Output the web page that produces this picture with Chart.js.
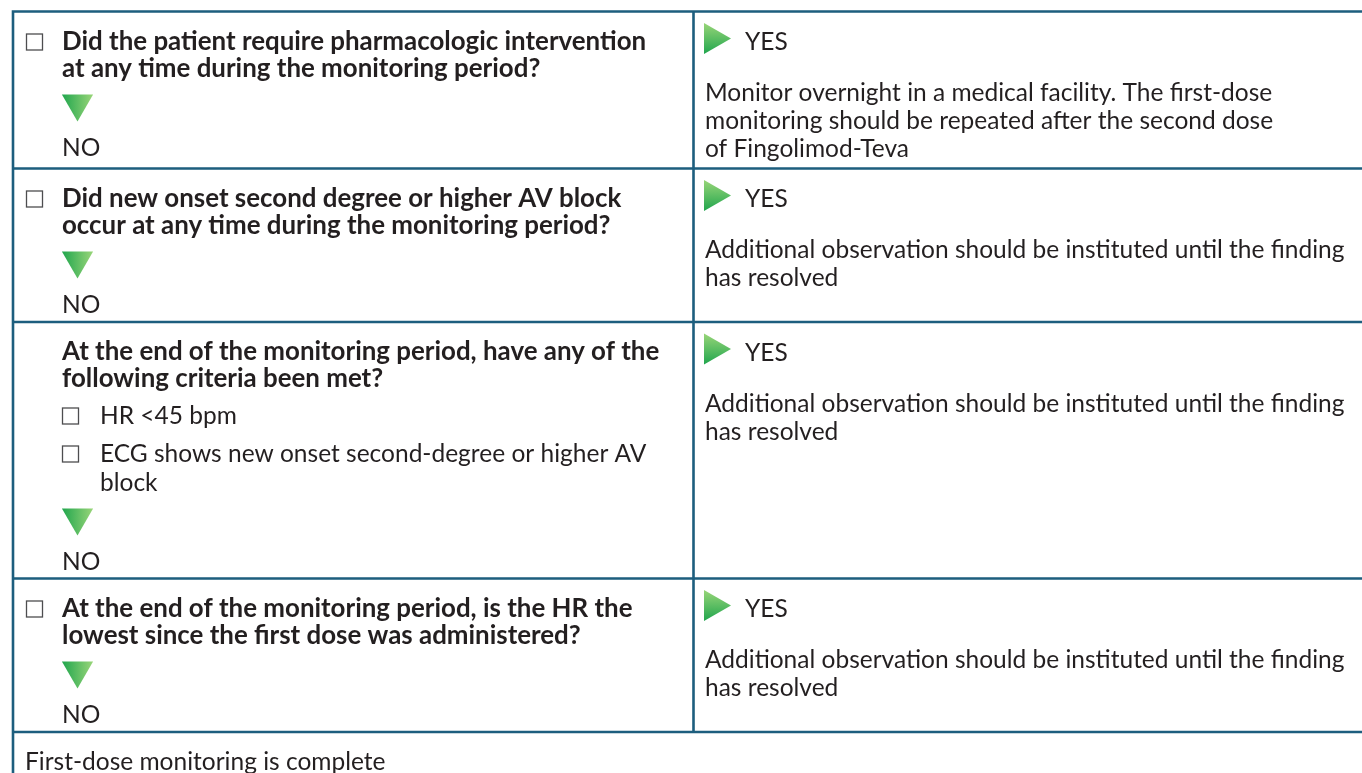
<!DOCTYPE html>
<html>
<head>
<meta charset="utf-8">
<script src="https://cdn.jsdelivr.net/npm/chart.js@4.4.1/dist/chart.umd.min.js"></script>
<style>
  html, body { margin: 0; padding: 0; background: #ffffff; }
  #wrap { position: relative; width: 1362px; height: 773px; }
</style>
</head>
<body>
<div id="wrap"><canvas id="flow"></canvas></div>
<script>
// ---------------- data ----------------
const noLabel = "NO";
const yesLabel = "YES";
const questions = [
  ["Did the patient require pharmacologic intervention", "at any time during the monitoring period?"],
  ["Did new onset second degree or higher AV block", "occur at any time during the monitoring period?"],
  ["At the end of the monitoring period, have any of the", "following criteria been met?"],
  ["At the end of the monitoring period, is the HR the", "lowest since the first dose was administered?"]
];
const questionCheckbox = [true, true, false, true];
const criteria = [
  [],
  [],
  [["HR <45 bpm"], ["ECG shows new onset second-degree or higher AV", "block"]],
  []
];
const yesActions = [
  ["Monitor overnight in a medical facility. The first-dose", "monitoring should be repeated after the second dose", "of Fingolimod-Teva"],
  ["Additional observation should be instituted until the finding", "has resolved"],
  ["Additional observation should be instituted until the finding", "has resolved"],
  ["Additional observation should be instituted until the finding", "has resolved"]
];
const conclusion = "First-dose monitoring is complete";

// ---------------- layout (styles / positions) ----------------
const W = 1362, H = 773;
const rowTops = [11.5, 168.5, 322, 578.5, 732];
const leftEdge = 13, divider = 693.5;
const qLineH = 27;
const bodyLineH = 28;
const borderColor = "#1d5e7e";
const textColor = "#231f20";
const FONT_FAMILY = "Lato, 'Open Sans', 'DejaVu Sans', sans-serif";
const boldFont = "bold 25.9px " + FONT_FAMILY;
const bodyFont = "24.5px " + FONT_FAMILY;

// compute flow of left column per row
function leftLayout(i) {
  const top = rowTops[i];
  const lines = [];
  let b = top + 38;
  questions[i].forEach((t, k) => {
    lines.push({ text: t, x: 62, y: b, font: boldFont, box: (k === 0 && questionCheckbox[i]) ? 26 : null });
    b += qLineH;
  });
  b -= qLineH;
  criteria[i].forEach((item, n) => {
    b += (n === 0 ? 36.5 : 38);
    item.forEach((t, k) => {
      if (k > 0) b += 29;
      lines.push({ text: t, x: 100, y: b, font: bodyFont, box: k === 0 ? 62 : null });
    });
  });
  const triTop = b + 18;
  const noBase = triTop + 61;
  return { lines, triTop, noBase };
}
const layouts = questions.map((q, i) => leftLayout(i));

const noMarkers = layouts.map(l => ({ x: 77.5, y: l.triTop + 9 }));
const yesMarkers = rowTops.slice(0, 4).map(t => ({ x: 713, y: t + 27 }));

function triGradient(ctx, dir) {
  if (!ctx.raw || !ctx.chart.chartArea) return "#3cb44a";
  const c = ctx.chart;
  const px = c.scales.x.getPixelForValue(ctx.raw.x);
  const py = c.scales.y.getPixelForValue(ctx.raw.y);
  const r = 18;
  let g;
  if (dir === "down") g = c.ctx.createLinearGradient(px - r, py, px + r, py);
  else g = c.ctx.createLinearGradient(px, py + r, px, py - r);
  g.addColorStop(0, "#17a24a");
  g.addColorStop(1, "#a2d97c");
  return g;
}

const tablePlugin = {
  id: "tablePlugin",
  beforeDatasetsDraw(chart) {
    const ctx = chart.ctx;
    const X = v => chart.scales.x.getPixelForValue(v);
    const Y = v => chart.scales.y.getPixelForValue(v);
    ctx.save();
    ctx.fillStyle = "#ffffff";
    ctx.fillRect(0, 0, chart.width, chart.height);

    // grid lines
    ctx.strokeStyle = borderColor;
    ctx.lineWidth = 2.6;
    ctx.beginPath();
    rowTops.forEach(t => { ctx.moveTo(X(leftEdge - 1.3), Y(t)); ctx.lineTo(X(W), Y(t)); });
    ctx.moveTo(X(leftEdge), Y(rowTops[0])); ctx.lineTo(X(leftEdge), Y(H));
    ctx.moveTo(X(divider), Y(rowTops[0])); ctx.lineTo(X(divider), Y(rowTops[4]));
    ctx.stroke();

    const box = (x, base) => {
      ctx.save();
      ctx.strokeStyle = "#4d4d4f";
      ctx.lineWidth = 1.3;
      ctx.strokeRect(X(x) + 0.5, Y(base - 16) + 0.5, 16, 16);
      ctx.restore();
    };
    const text = (t, x, base, font) => {
      ctx.font = font;
      ctx.fillStyle = textColor;
      ctx.textBaseline = "alphabetic";
      ctx.textAlign = "left";
      ctx.fillText(t, X(x), Y(base));
    };

    // left column
    layouts.forEach((l) => {
      l.lines.forEach(ln => {
        if (ln.box !== null) box(ln.box, ln.y);
        text(ln.text, ln.x, ln.y, ln.font);
      });
      text(noLabel, 62, l.noBase, bodyFont);
    });
    // right column
    rowTops.slice(0, 4).forEach((t, i) => {
      text(yesLabel, 745, t + 38.5, bodyFont);
      yesActions[i].forEach((ln, k) => text(ln, 705, t + 89.5 + k * bodyLineH, bodyFont));
    });
    // conclusion
    text(conclusion, 25, 770, bodyFont);
    ctx.restore();
  }
};

new Chart(document.getElementById("flow"), {
  type: "scatter",
  data: {
    datasets: [
      {
        label: noLabel,
        data: noMarkers,
        pointStyle: "triangle",
        rotation: 180,
        pointRadius: 18,
        pointHoverRadius: 18,
        borderWidth: 0,
        backgroundColor: (c) => triGradient(c, "down")
      },
      {
        label: yesLabel,
        data: yesMarkers,
        pointStyle: "triangle",
        rotation: 90,
        pointRadius: 18,
        pointHoverRadius: 18,
        borderWidth: 0,
        backgroundColor: (c) => triGradient(c, "right")
      }
    ]
  },
  options: {
    responsive: true,
    maintainAspectRatio: false,
    animation: false,
    events: [],
    layout: { padding: 0, autoPadding: false },
    scales: {
      x: { type: "linear", min: 0, max: W, display: false },
      y: { type: "linear", min: 0, max: H, reverse: true, display: false }
    },
    plugins: { legend: { display: false }, tooltip: { enabled: false } }
  },
  plugins: [tablePlugin]
});
</script>
</body>
</html>
